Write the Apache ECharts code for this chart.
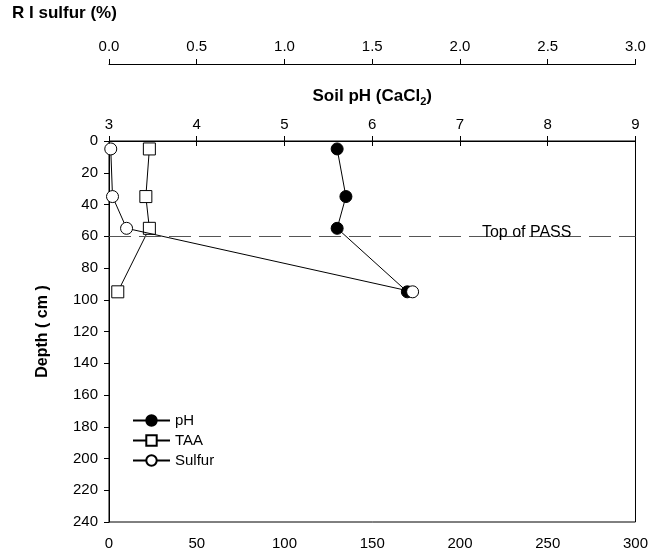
<!DOCTYPE html>
<html>
<head>
<meta charset="utf-8">
<script src="https://cdn.jsdelivr.net/npm/echarts@6/dist/echarts.min.js"></script>
<style>
html,body{margin:0;padding:0;background:#fff;}
#chart{width:651px;height:556px;}
</style>
</head>
<body>
<div id="chart"></div>
<script>
// Depths (cm)
var depths = [5, 35, 55, 95];
// Soil pH (CaCl2)
var phValues = [5.6, 5.7, 5.6, 6.4];
// TAA (bottom axis)
var taaValues = [23, 21, 23, 5];
// R I sulfur (%)
var sulfurValues = [0.01, 0.02, 0.1, 1.73];
// Reference depth
var passDepth = 60;
var passLabelX = 238;

var FONT = 'Liberation Sans, Arial, sans-serif';

function pairs(xs, ys) { return xs.map(function (x, i) { return [x, ys[i]]; }); }

var chart = echarts.init(document.getElementById('chart'), null, {renderer: 'canvas'});
var axisCommon = {
  axisLine: {show: true, lineStyle: {color: '#000', width: 1}},
  axisTick: {show: true, inside: false, length: 5, lineStyle: {color: '#000'}},
  splitLine: {show: false},
  axisLabel: {color: '#000', fontSize: 15, fontFamily: FONT}
};
chart.setOption({
  animation: false,
  backgroundColor: '#fff',
  textStyle: {fontFamily: FONT},
  title: {
    text: 'R I sulfur (%)', left: 7, top: 0,
    textStyle: {fontSize: 17, fontWeight: 'bold', color: '#000', fontFamily: FONT}
  },
  grid: {left: 109, right: 13, top: 141, bottom: 34, show: true, borderColor: '#000', borderWidth: 1, backgroundColor: 'transparent'},
  legend: {
    orient: 'vertical', left: 127, top: 408, itemGap: 5,
    itemWidth: 37, itemHeight: 13,
    textStyle: {color: '#000', fontSize: 15, lineHeight: 15, fontFamily: FONT},
    data: ['pH', 'TAA', 'Sulfur']
  },
  xAxis: [
    Object.assign({}, axisCommon, {
      type: 'value', position: 'bottom', min: 0, max: 300, interval: 50,
      axisLabel: Object.assign({}, axisCommon.axisLabel, {margin: 14})
    }),
    Object.assign({}, axisCommon, {
      type: 'value', position: 'top', min: 3, max: 9, interval: 1,
      name: '{a|Soil pH (CaCl}{s|2}{a|)}', nameLocation: 'middle', nameGap: 34,
      nameTextStyle: {rich: {
        a: {fontSize: 17, fontWeight: 'bold', color: '#000', fontFamily: FONT},
        s: {fontSize: 11, fontWeight: 'bold', color: '#000', fontFamily: FONT, verticalAlign: 'bottom', padding: [10, 0, 0, 0]}
      }},
      axisLabel: Object.assign({}, axisCommon.axisLabel, {margin: 9})
    }),
    Object.assign({}, axisCommon, {
      type: 'value', position: 'top', offset: 77, min: 0, max: 3, interval: 0.5,
      axisLabel: Object.assign({}, axisCommon.axisLabel, {margin: 10, formatter: function (v) { return v.toFixed(1); }})
    })
  ],
  yAxis: [
    Object.assign({}, axisCommon, {
      type: 'value', inverse: true, min: 0, max: 240, interval: 20,
      name: 'Depth ( cm )', nameLocation: 'middle', nameGap: 58, nameRotate: 90,
      nameTextStyle: {fontSize: 16, fontWeight: 'bold', color: '#000', fontFamily: FONT},
      axisLabel: Object.assign({}, axisCommon.axisLabel, {margin: 11})
    })
  ],
  series: [
    {
      name: 'pH', type: 'line', xAxisIndex: 1, yAxisIndex: 0,
      data: pairs(phValues, depths),
      symbol: 'circle', symbolSize: 12,
      lineStyle: {color: '#000', width: 1},
      itemStyle: {color: '#000', borderColor: '#000', borderWidth: 1},
      z: 3
    },
    {
      name: 'TAA', type: 'line', xAxisIndex: 0, yAxisIndex: 0,
      data: pairs(taaValues, depths),
      symbol: 'rect', symbolSize: 12,
      lineStyle: {color: '#000', width: 1},
      itemStyle: {color: '#fff', borderColor: '#000', borderWidth: 1},
      z: 3,
      markLine: {
        silent: true, symbol: 'none', animation: false,
        lineStyle: {color: '#555', width: 1, type: [22, 8]},
        label: {show: false},
        data: [{yAxis: passDepth}]
      },
      markPoint: {
        silent: true, symbol: 'circle', symbolSize: 0,
        label: {show: true, position: 'top', distance: -4, formatter: 'Top of PASS', color: '#000', fontSize: 16, fontFamily: FONT},
        data: [{coord: [passLabelX, passDepth]}]
      }
    },
    {
      name: 'Sulfur', type: 'line', xAxisIndex: 2, yAxisIndex: 0,
      data: pairs(sulfurValues, depths),
      symbol: 'circle', symbolSize: 12,
      lineStyle: {color: '#000', width: 1},
      itemStyle: {color: '#fff', borderColor: '#000', borderWidth: 1},
      z: 4
    }
  ]
});
</script>
</body>
</html>
